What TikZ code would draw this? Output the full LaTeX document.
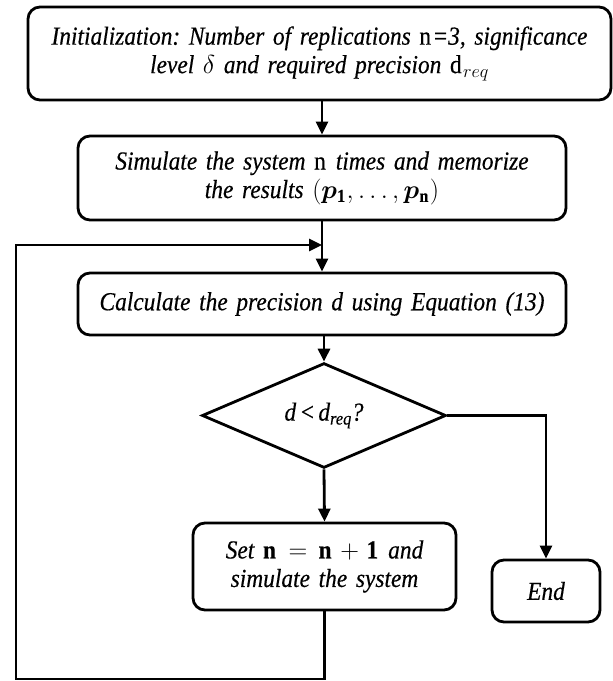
\RequirePackage{fix-cm}
\documentclass[tikz,border=0pt]{standalone}
\usepackage{bm}
\usepackage{fontspec}
\setmainfont{Liberation Serif}[WordSpace=0.55,FakeStretch=0.9,FakeBold=0.4]
\usetikzlibrary{shapes.geometric,arrows.meta}
\frenchspacing
\begin{document}
\begin{tikzpicture}[x=1pt,y=-1pt,
  txt/.style={font=\fontsize{26}{28.5}\selectfont\itshape},
  box/.style={draw,line width=2.8pt,rounded corners=12pt,align=center,inner sep=0pt,txt},
  dia/.style={draw,line width=2.8pt,diamond,inner sep=0pt,txt},
  arr/.style={line width=2.8pt,-{Triangle[length=13pt,width=12pt]}}]
\useasboundingbox (0,0) rectangle (613,681);
\node[box,minimum width=583pt,minimum height=93pt,text width=575pt] (init) at (319.5,53.5)
  {Initialization: Number of replications $\mathrm{n}$=3, significance\\
   level $\delta$ and required precision $\mathrm{d}_{req}$};
\node[box,minimum width=488pt,minimum height=84pt,text width=480pt] (sim) at (322,178)
  {Simulate the system $\mathrm{n}$ times and memorize\\
   the results $(\bm{p}_{\mathbf{1}},\ldots,\bm{p}_{\mathbf{n}})$};
\node[box,minimum width=488pt,minimum height=62pt,text width=480pt] (calc) at (322,304)
  {Calculate the precision \textit{d} using Equation (13)};
\node[dia,minimum width=244pt,minimum height=95pt] (dec) at (324,415.5)
  {d < d\textsubscript{req}?};
\node[box,minimum width=263pt,minimum height=87pt,text width=255pt] (set) at (324.5,566.5)
  {Set $\mathbf{n}=\mathbf{n}+\mathbf{1}$ and\\ simulate the system};
\node[box,minimum width=108pt,minimum height=62pt] (end) at (546,591) {End};
\coordinate (join) at (322,245);
\coordinate (bl) at (16,679);
\draw[arr] (sim.north |- init.south) -- (sim.north);
\draw[arr] (sim.south) -- (calc.north);
\draw[arr] (calc.south -| dec.north) -- (dec.north);
\draw[arr] (dec.south) -- (set.north);
\draw[arr] (dec.east) -| (end.north);
\draw[arr] (set.south) |- (bl) |- (join);
\end{tikzpicture}
\end{document}
